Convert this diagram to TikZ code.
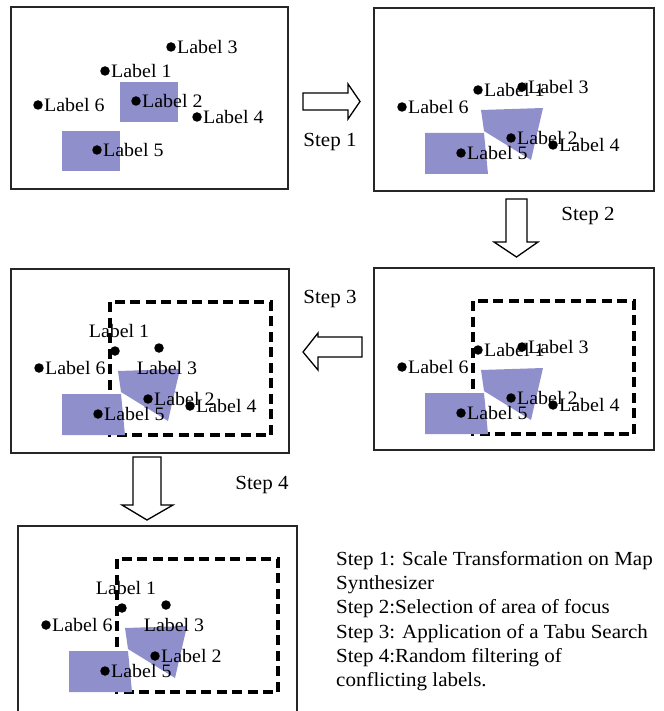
\documentclass[tikz,border=0pt]{standalone}
\usepackage{fontspec}
\setmainfont[FakeStretch=1.05]{Liberation Serif}
\definecolor{focusblue}{RGB}{143,143,204}

\tikzstyle{frame} = [draw=black!85,line width=1.3pt]
\tikzstyle{focus} = [draw=black,line width=3.2pt,dash pattern=on 10pt off 5.5pt]
\tikzstyle{patch} = [fill=focusblue]
\tikzstyle{site} = [circle,fill=black,inner sep=0pt,minimum size=9.5pt]
\tikzstyle{lbl} = [font=\fontsize{19}{22}\selectfont,inner sep=0.5pt]
\tikzstyle{steptext} = [font=\fontsize{20}{24}\selectfont,anchor=base]
\tikzstyle{blockarrow} = [draw=black,line width=1.3pt,fill=white,line join=miter]

\begin{document}
\begin{tikzpicture}[x=1pt,y=-1pt,label distance=0.5pt]

	\useasboundingbox (0,0) rectangle (663,711);

	% map 1: initial label placement
	\begin{scope}[shift={(11,7)}]
		\draw[frame] (0,0) rectangle (277,182);
		\fill[patch] (109,75) rectangle (167,115);
		\fill[patch] (51,124) rectangle (109,164);
		\node (a1) [site,label={[lbl]right:Label 1}] at (94,64) {};
		\node (a2) [site,label={[lbl]right:Label 2}] at (125,94) {};
		\node (a3) [site,label={[lbl]right:Label 3}] at (160,40) {};
		\node (a4) [site,label={[lbl]right:Label 4}] at (186,110) {};
		\node (a5) [site,label={[lbl]right:Label 5}] at (86,143) {};
		\node (a6) [site,label={[lbl]right:Label 6}] at (27,98) {};
	\end{scope}

	% map 2: after scale transformation
	\begin{scope}[shift={(374,8)}]
		\draw[frame] (0,0) rectangle (280,183);
		\fill[patch] (107,102) -- (169,100) -- (157,152) -- (110,123) -- cycle;
		\fill[patch] (51,125) -- (110,125) -- (114,166) -- (51,166) -- cycle;
		\node (b1) [site,label={[lbl]right:Label 1}] at (104,82) {};
		\node (b3) [site,label={[lbl]right:Label 3}] at (148,79) {};
		\node (b2) [site,label={[lbl]right:Label 2}] at (137,130) {};
		\node (b4) [site,label={[lbl]right:Label 4}] at (179,137) {};
		\node (b5) [site,label={[lbl]right:Label 5}] at (87,145) {};
		\node (b6) [site,label={[lbl]right:Label 6}] at (28,99) {};
	\end{scope}

	% map 4: area of focus selected
	\begin{scope}[shift={(374,268)}]
		\draw[frame] (0,0) rectangle (280,182);
		\draw[focus] (99,33) rectangle (260,166);
		\fill[patch] (107,102) -- (169,100) -- (157,152) -- (110,123) -- cycle;
		\fill[patch] (51,125) -- (110,125) -- (114,166) -- (51,166) -- cycle;
		\node (d1) [site,label={[lbl]right:Label 1}] at (104,82) {};
		\node (d3) [site,label={[lbl]right:Label 3}] at (148,79) {};
		\node (d2) [site,label={[lbl]right:Label 2}] at (137,130) {};
		\node (d4) [site,label={[lbl]right:Label 4}] at (179,137) {};
		\node (d5) [site,label={[lbl]right:Label 5}] at (87,145) {};
		\node (d6) [site,label={[lbl]right:Label 6}] at (28,99) {};
	\end{scope}

	% map 3: tabu search inside the focus area
	\begin{scope}[shift={(11,269)}]
		\draw[frame] (0,0) rectangle (278,184);
		\draw[focus] (99,33) rectangle (260,166);
		\fill[patch] (107,102) -- (169,100) -- (157,152) -- (110,123) -- cycle;
		\fill[patch] (51,125) -- (110,125) -- (114,166) -- (51,166) -- cycle;
		\node (c1) [site,label={[lbl,xshift=4pt,label distance=8pt]above:Label 1}] at (104,82) {};
		\node (c3) [site,label={[lbl,xshift=8pt,label distance=8pt]below:Label 3}] at (148,79) {};
		\node (c2) [site,label={[lbl]right:Label 2}] at (137,130) {};
		\node (c4) [site,label={[lbl]right:Label 4}] at (179,137) {};
		\node (c5) [site,label={[lbl]right:Label 5}] at (87,145) {};
		\node (c6) [site,label={[lbl]right:Label 6}] at (28,99) {};
	\end{scope}

	% map 5: conflicting label filtered out
	\begin{scope}[shift={(18,526)}]
		\draw[frame] (0,186) -- (0,0) -- (279,0) -- (279,186);
		\draw[focus] (99,33) rectangle (260,166);
		\fill[patch] (107,102) -- (169,100) -- (157,152) -- (110,123) -- cycle;
		\fill[patch] (51,125) -- (110,125) -- (114,166) -- (51,166) -- cycle;
		\node (e1) [site,label={[lbl,xshift=4pt,label distance=8pt]above:Label 1}] at (104,82) {};
		\node (e3) [site,label={[lbl,xshift=8pt,label distance=8pt]below:Label 3}] at (148,79) {};
		\node (e2) [site,label={[lbl]right:Label 2}] at (137,130) {};
		\node (e5) [site,label={[lbl]right:Label 5}] at (87,145) {};
		\node (e6) [site,label={[lbl]right:Label 6}] at (28,99) {};
	\end{scope}

	% block arrows between the maps
	\draw[blockarrow] (303,93) -- (348,93) -- (348,84) -- (360,101.5) -- (348,119) -- (348,110) -- (303,110) -- cycle;
	\draw[blockarrow] (506,199) -- (527,199) -- (527,242) -- (538,242) -- (516.5,257) -- (494,242) -- (506,242) -- cycle;
	\draw[blockarrow] (362,337) -- (318,337) -- (318,333) -- (303,352) -- (318,370) -- (318,357) -- (362,357) -- cycle;
	\draw[blockarrow] (133,457) -- (161,457) -- (161,505) -- (173,505) -- (147,520) -- (122,505) -- (133,505) -- cycle;

	\node (s1) [steptext] at (330,147) {Step 1};
	\node (s2) [steptext] at (588,220) {Step 2};
	\node (s3) [steptext] at (330,303) {Step 3};
	\node (s4) [steptext] at (262,489) {Step 4};

	% legend
	\node (legend) [anchor=north west,align=left,inner sep=0pt,font=\fontsize{20}{24.2}\selectfont] at (336,551.3) {%
		Step 1: Scale Transformation on Map\\
		Synthesizer\\
		Step 2:Selection of area of focus\\
		Step 3: Application of a Tabu Search\\
		Step 4:Random filtering of\\
		conflicting labels.};

\end{tikzpicture}
\end{document}
